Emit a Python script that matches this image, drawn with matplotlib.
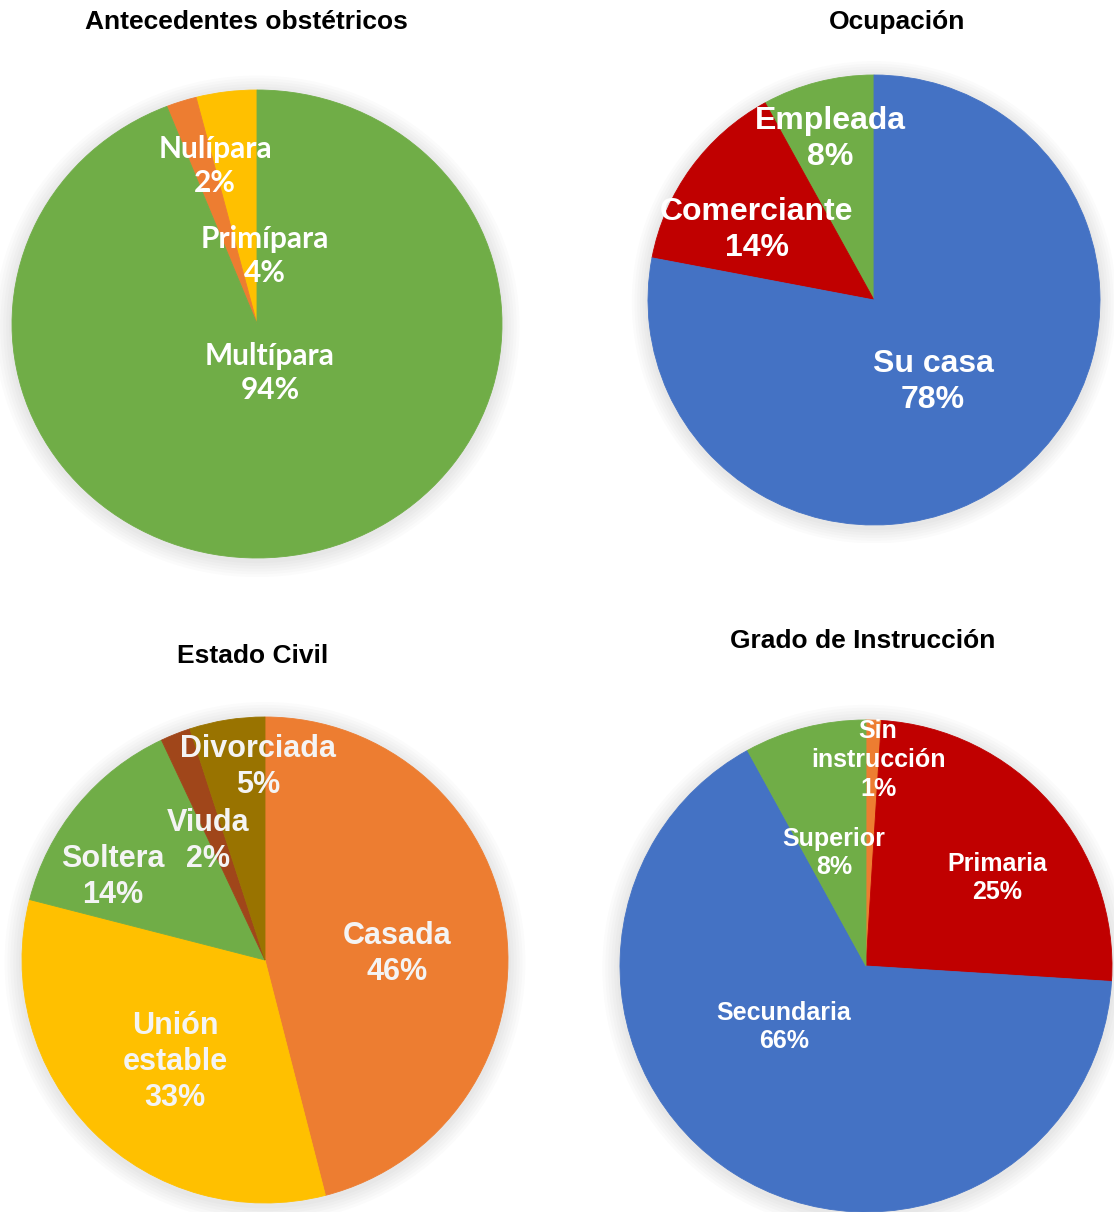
import matplotlib.pyplot as plt
from matplotlib.patches import Ellipse

W, H = 1114, 1212

GREEN = "#70AD47"
ORANGE = "#ED7D31"
YELLOW = "#FFC000"
RED = "#C00000"
BLUE = "#4472C4"
OLIVE = "#997300"
RUST = "#A0461A"

# Antecedentes obstétricos
obst_labels = ["Primípara", "Nulípara", "Multípara"]
obst_values = [4, 2, 94]
obst_colors = [YELLOW, ORANGE, GREEN]

# Ocupación
ocup_labels = ["Empleada", "Comerciante", "Su casa"]
ocup_values = [8, 14, 78]
ocup_colors = [GREEN, RED, BLUE]

# Estado civil
civil_labels = ["Casada", "Unión\nestable", "Soltera", "Viuda", "Divorciada"]
civil_values = [46, 33, 14, 2, 5]
civil_colors = [ORANGE, YELLOW, GREEN, RUST, OLIVE]

# Grado de instrucción
instr_labels = ["Sin\ninstrucción", "Primaria", "Secundaria", "Superior"]
instr_values = [1, 25, 66, 8]
instr_colors = [ORANGE, RED, BLUE, GREEN]


def draw_pie(fig, box, values, colors, labels, label_pos, counterclock,
             font, size, text_color="white"):
    cx, cy, rx, ry = box
    pad = 1.08
    ax = fig.add_axes([(cx - rx * pad) / W, 1 - (cy + ry * pad) / H,
                       2 * rx * pad / W, 2 * ry * pad / H])
    # soft grey halo behind the pie
    for k in range(6):
        r = 1.0 + 0.012 * (k + 1)
        ax.add_patch(Ellipse((0.0, -0.01), 2 * r, 2 * r, color="#000000",
                             alpha=0.016, lw=0, zorder=0))
    wedges, _ = ax.pie(values, colors=colors, startangle=90,
                       counterclock=counterclock, radius=1.0)
    for w in wedges:
        w.set_edgecolor(w.get_facecolor())
        w.set_linewidth(0.6)
        w.set_zorder(2)
    ax.set_aspect("auto")
    ax.set_xlim(-pad, pad)
    ax.set_ylim(-pad, pad)
    ax.axis("off")
    for name, val, (x, y) in zip(labels, values, label_pos):
        ax.text(x, y, f"{name}\n{val}%", ha="center", va="center",
                color=text_color, fontsize=size, fontweight="bold",
                family=font, linespacing=1.25, zorder=5)
    return ax


fig = plt.figure(figsize=(W / 100, H / 100), dpi=100)

draw_pie(fig, (257, 324, 245, 234), obst_values, obst_colors, obst_labels,
         [(0.033, 0.29), (-0.171, 0.675), (0.053, -0.21)],
         True, "Lato", 21.5)

draw_pie(fig, (874, 300, 226, 225), ocup_values, ocup_colors, ocup_labels,
         [(-0.195, 0.717), (-0.518, 0.31), (0.261, -0.363)],
         True, "Liberation Sans", 23)

draw_pie(fig, (265, 960, 243, 243), civil_values, civil_colors, civil_labels,
         [(0.543, 0.025), (-0.37, -0.42), (-0.626, 0.342), (-0.235, 0.49),
          (-0.029, 0.794)],
         False, "Liberation Sans", 22, text_color="#F4F4F4")

draw_pie(fig, (866, 966, 246, 246), instr_values, instr_colors, instr_labels,
         [(0.049, 0.837), (0.533, 0.358), (-0.333, -0.248), (-0.13, 0.459)],
         False, "Liberation Sans", 18)

titles = [("Antecedentes obstétricos", 246, 22), ("Ocupación", 897, 22),
          ("Estado Civil", 253, 656), ("Grado de Instrucción", 863, 641)]
for t, x, y in titles:
    fig.text(x / W, 1 - y / H, t, ha="center", va="center", fontsize=19,
             fontweight="bold", family="Liberation Sans")

fig.savefig("out.png", dpi=100)
